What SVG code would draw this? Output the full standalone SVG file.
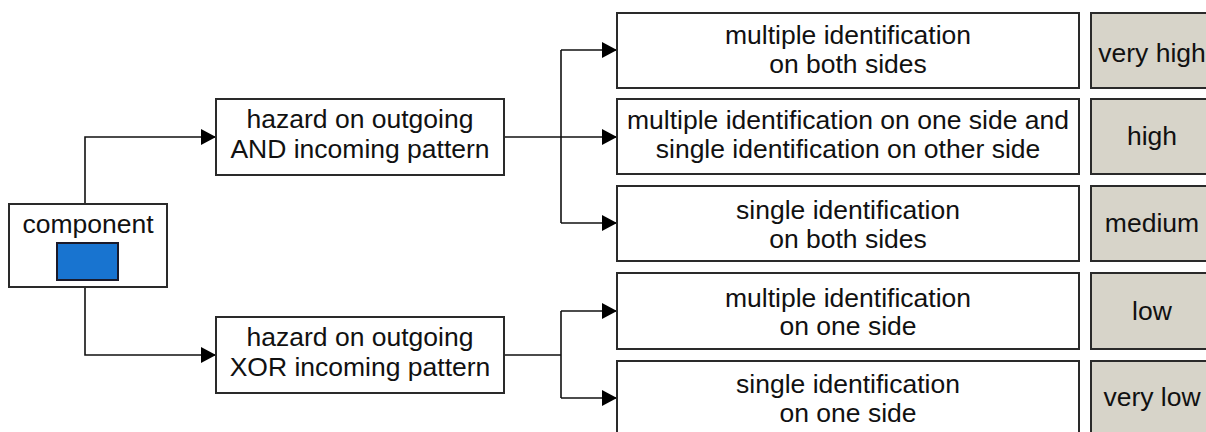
<svg xmlns="http://www.w3.org/2000/svg" width="1206" height="432" viewBox="0 0 1206 432">
<style>
.box{fill:#fff;stroke:#2a2a2a;stroke-width:2}
.rate{fill:#d7d4c9;stroke:#2a2a2a;stroke-width:2}
.t{font-family:"Liberation Sans",Arial,sans-serif;font-size:26.5px;fill:#111;text-anchor:middle}
.c{fill:none;stroke:#111;stroke-width:1.6}
</style>
<defs>
<marker id="arr" markerUnits="userSpaceOnUse" markerWidth="16" markerHeight="16" refX="15" refY="8" orient="auto">
<path d="M0,0 L15,8 L0,16 Z" fill="#000"/>
</marker>
</defs>
<rect width="1206" height="432" fill="#fff"/>
<g id="connectors">
<path class="c" d="M85,204 V137 H216" marker-end="url(#arr)"/>
<path class="c" d="M85,287 V355 H216" marker-end="url(#arr)"/>
<path class="c" d="M504,137 H617" marker-end="url(#arr)"/>
<path class="c" d="M561,50 V223"/>
<path class="c" d="M561,50 H617" marker-end="url(#arr)"/>
<path class="c" d="M561,223 H617" marker-end="url(#arr)"/>
<path class="c" d="M504,355 H561 M561,311 V398"/>
<path class="c" d="M561,311 H617" marker-end="url(#arr)"/>
<path class="c" d="M561,398 H617" marker-end="url(#arr)"/>
</g>
<g id="component">
<rect class="box" x="9" y="204" width="158" height="83"/>
<text class="t" x="88" y="233">component</text>
<rect x="57" y="243" width="61" height="37" fill="#1874d0" stroke="#1a1a2a" stroke-width="2"/>
</g>
<g id="and-pattern">
<rect class="box" x="216" y="99" width="288" height="76"/>
<text class="t" x="360" y="128">hazard on outgoing</text>
<text class="t" x="360" y="158">AND incoming pattern</text>
</g>
<g id="xor-pattern">
<rect class="box" x="216" y="317" width="288" height="76"/>
<text class="t" x="360" y="346">hazard on outgoing</text>
<text class="t" x="360" y="376">XOR incoming pattern</text>
</g>
<g id="multi-both">
<rect class="box" x="617" y="13" width="462" height="75"/>
<text class="t" x="848" y="44">multiple identification</text>
<text class="t" x="848" y="73">on both sides</text>
</g>
<g id="multi-single">
<rect class="box" x="617" y="99" width="462" height="75"/>
<text class="t" x="848" y="129">multiple identification on one side and</text>
<text class="t" x="848" y="158">single identification on other side</text>
</g>
<g id="single-both">
<rect class="box" x="617" y="186" width="462" height="75"/>
<text class="t" x="848" y="219">single identification</text>
<text class="t" x="848" y="248">on both sides</text>
</g>
<g id="multi-one">
<rect class="box" x="617" y="273" width="462" height="76"/>
<text class="t" x="848" y="307">multiple identification</text>
<text class="t" x="848" y="335">on one side</text>
</g>
<g id="single-one">
<rect class="box" x="617" y="361" width="462" height="76"/>
<text class="t" x="848" y="393">single identification</text>
<text class="t" x="848" y="422">on one side</text>
</g>
<g id="very-high">
<rect class="rate" x="1091" y="13" width="130" height="75"/>
<text class="t" x="1152" y="62">very high</text>
</g>
<g id="high">
<rect class="rate" x="1091" y="99" width="130" height="75"/>
<text class="t" x="1152" y="145">high</text>
</g>
<g id="medium">
<rect class="rate" x="1091" y="186" width="130" height="75"/>
<text class="t" x="1152" y="232">medium</text>
</g>
<g id="low">
<rect class="rate" x="1091" y="273" width="130" height="76"/>
<text class="t" x="1152" y="320">low</text>
</g>
<g id="very-low">
<rect class="rate" x="1091" y="361" width="130" height="76"/>
<text class="t" x="1152" y="406">very low</text>
</g>
</svg>
